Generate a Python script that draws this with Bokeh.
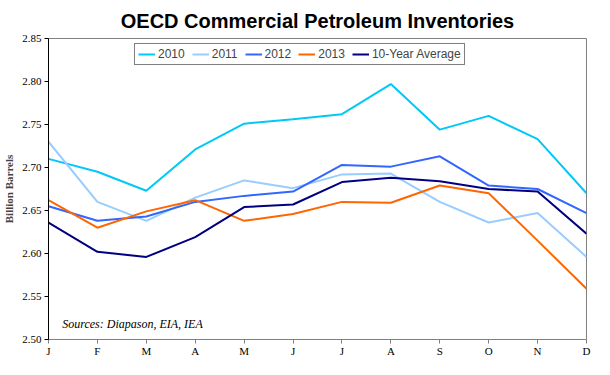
from bokeh.plotting import figure
from bokeh.models import FixedTicker, Legend, LegendItem, Label, Title, Range1d, NumeralTickFormatter
from bokeh.embed import file_html
from bokeh.resources import INLINE

months = ["J", "F", "M", "A", "M", "J", "J", "A", "S", "O", "N", "D"]
y2010 = [2.710, 2.695, 2.673, 2.721, 2.751, 2.756, 2.762, 2.797, 2.744, 2.760, 2.733, 2.670]
y2011 = [2.730, 2.660, 2.638, 2.665, 2.685, 2.676, 2.692, 2.693, 2.660, 2.636, 2.647, 2.596]
y2012 = [2.655, 2.638, 2.643, 2.660, 2.667, 2.672, 2.703, 2.701, 2.713, 2.679, 2.675, 2.647]
y2013 = [2.662, 2.630, 2.649, 2.662, 2.638, 2.646, 2.660, 2.659, 2.679, 2.670, 2.615, 2.559]
yavg = [2.636, 2.602, 2.596, 2.619, 2.654, 2.657, 2.683, 2.688, 2.684, 2.675, 2.672, 2.623]
series_names = ["2010", "2011", "2012", "2013", "10-Year Average"]
series_vals = [y2010, y2011, y2012, y2013, yavg]
colors = ["#00C8F8", "#99CCFF", "#3366FF", "#FF6600", "#000080"]
y_ticks = [2.50, 2.55, 2.60, 2.65, 2.70, 2.75, 2.80, 2.85]

xs = list(range(len(months)))

p = figure(width=594, height=359, output_backend="svg", toolbar_location=None,
           x_range=Range1d(0, 11), y_range=Range1d(2.50, 2.85),
           min_border_left=41, min_border_right=8, min_border_top=4, min_border_bottom=20)
p.title = Title(text="OECD Commercial Petroleum Inventories", align="center",
                text_font="Liberation Sans", text_font_size="20px", text_font_style="bold",
                text_color="#000000", offset=0)
p.title.standoff = 14

p.xgrid.visible = False
p.ygrid.visible = False
p.outline_line_color = "#808080"
p.outline_line_width = 1
p.background_fill_color = "white"
p.border_fill_color = "white"

renderers = []
for name, vals, c in zip(series_names, series_vals, colors):
    r = p.line(xs, vals, line_color=c, line_width=2)
    renderers.append((name, r))

# axes
p.xaxis.ticker = FixedTicker(ticks=xs)
p.xaxis.major_label_overrides = {i: m for i, m in enumerate(months)}
p.xaxis.axis_line_color = "#808080"
p.xaxis.major_tick_line_color = "#808080"
p.xaxis.major_tick_out = 4
p.xaxis.major_tick_in = 0
p.xaxis.minor_tick_line_color = None
p.xaxis.major_label_text_font = "Liberation Serif"
p.xaxis.major_label_text_font_size = "11px"
p.xaxis.major_label_text_color = "#000000"
p.xaxis.major_label_standoff = 1

p.yaxis.ticker = FixedTicker(ticks=y_ticks)
p.yaxis.formatter = NumeralTickFormatter(format="0.00")
p.yaxis.axis_line_color = "#000000"
p.yaxis.major_tick_line_color = "#000000"
p.yaxis.major_tick_out = 4
p.yaxis.major_tick_in = 0
p.yaxis.minor_tick_line_color = None
p.yaxis.major_label_text_font = "Liberation Serif"
p.yaxis.major_label_text_font_size = "11px"
p.yaxis.major_label_text_color = "#000000"
p.yaxis.major_label_standoff = 3
p.yaxis.axis_label = "Billion Barrels"
p.yaxis.axis_label_text_font = "Liberation Serif"
p.yaxis.axis_label_text_font_size = "11px"
p.yaxis.axis_label_text_font_style = "bold"
p.yaxis.axis_label_standoff = 4

legend = Legend(items=[LegendItem(label=n, renderers=[r]) for n, r in renderers],
                orientation="horizontal", location=(86, 274),
                border_line_color="#000000", border_line_width=1,
                label_text_font="Liberation Sans", label_text_font_size="12px",
                glyph_width=17, glyph_height=12, label_standoff=3, spacing=7,
                padding=3, margin=0, label_height=12)
p.add_layout(legend)

src = Label(x=0.28, y=2.518, text="Sources: Diapason, EIA, IEA",
            text_font="Liberation Serif", text_font_size="12px", text_font_style="italic",
            text_baseline="middle", text_color="#000000")
p.add_layout(src)

open("out.html", "w").write(file_html(p, INLINE))
